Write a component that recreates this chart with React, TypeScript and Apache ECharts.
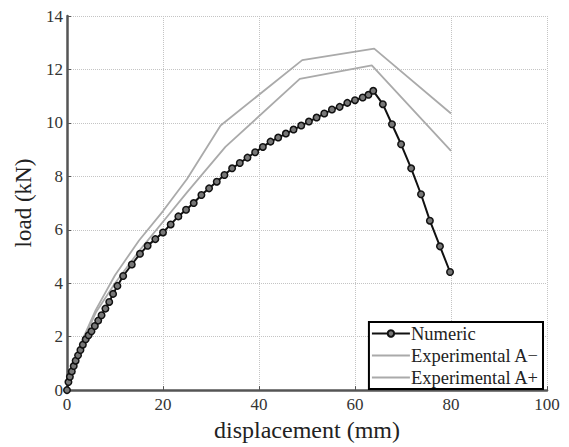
import React, { useEffect, useRef } from "react";
import * as echarts from "echarts";

const numericX = [0, 0.3, 0.6, 1.0, 1.4, 1.8, 2.3, 2.8, 3.3, 3.9, 4.5, 5.1, 5.8, 6.5, 7.2, 8.0, 8.8, 9.6, 10.5, 11.7, 13.5, 15.2, 16.8, 18.4, 20.0, 21.6, 23.2, 24.8, 26.4, 28.0, 29.6, 31.2, 32.8, 34.4, 36.0, 37.6, 39.2, 40.8, 42.4, 44.0, 45.6, 47.2, 48.8, 50.4, 52.0, 53.6, 55.2, 56.8, 58.4, 60.0, 61.6, 62.8, 63.8, 65.8, 67.7, 69.6, 71.7, 73.75, 75.6, 77.7, 79.8];
const numericY = [0, 0.3, 0.5, 0.7, 0.9, 1.1, 1.3, 1.5, 1.7, 1.9, 2.05, 2.2, 2.4, 2.6, 2.8, 3.05, 3.3, 3.6, 3.9, 4.27, 4.7, 5.1, 5.4, 5.65, 5.9, 6.2, 6.5, 6.75, 7.0, 7.3, 7.55, 7.8, 8.05, 8.3, 8.5, 8.7, 8.9, 9.1, 9.3, 9.45, 9.6, 9.75, 9.9, 10.05, 10.2, 10.35, 10.5, 10.6, 10.75, 10.85, 10.95, 11.05, 11.2, 10.7, 9.95, 9.2, 8.3, 7.33, 6.34, 5.38, 4.42];

const expMinusX = [0, 1, 3, 6, 10, 15, 20, 25, 33, 48.5, 63.5, 80];
const expMinusY = [0, 0.75, 1.7, 2.9, 4.0, 5.2, 6.3, 7.4, 9.1, 11.65, 12.15, 8.95];

const expPlusX = [0, 1, 3, 6, 10, 15, 20, 25, 32, 49, 64, 80];
const expPlusY = [0, 0.8, 1.8, 3.0, 4.3, 5.6, 6.7, 7.9, 9.9, 12.35, 12.78, 10.35];

const xTicks = { min: 0, max: 100, interval: 20 };
const yTicks = { min: 0, max: 14, interval: 2 };

const zip = (xs: number[], ys: number[]) => xs.map((x, i) => [x, ys[i]]);

export default function App() {
  const ref = useRef<HTMLDivElement>(null);
  useEffect(() => {
    if (!ref.current) return;
    const chart = echarts.init(ref.current, null, { renderer: "svg" });
    const font = "'Liberation Serif', 'Times New Roman', serif";
    const gridLine = { show: true, lineStyle: { color: "#c4c4c4", type: "dotted" as const, width: 1 } };
    chart.setOption({
      animation: false,
      backgroundColor: "#fff",
      grid: { left: 67, right: 22, top: 16, bottom: 51, containLabel: false },
      xAxis: {
        type: "value",
        ...xTicks,
        name: "displacement (mm)",
        nameLocation: "middle",
        nameGap: 23,
        nameTextStyle: { fontFamily: font, fontSize: 24, color: "#222" },
        axisLine: { show: true, onZero: false, lineStyle: { color: "#555", width: 2.5 } },
        axisTick: { show: true, inside: true, length: 4, lineStyle: { color: "#555" } },
        axisLabel: { fontFamily: font, fontSize: 17, color: "#333", margin: 6 },
        splitLine: gridLine,
      },
      yAxis: {
        type: "value",
        ...yTicks,
        name: "load (kN)",
        nameLocation: "middle",
        nameGap: 30,
        nameTextStyle: { fontFamily: font, fontSize: 23, color: "#222" },
        axisLine: { show: true, onZero: false, lineStyle: { color: "#555", width: 2.5 } },
        axisTick: { show: true, inside: true, length: 4, lineStyle: { color: "#555" } },
        axisLabel: { fontFamily: font, fontSize: 17, color: "#333", margin: 4 },
        splitLine: gridLine,
      },
      legend: {
        orient: "vertical",
        right: 26,
        bottom: 58,
        backgroundColor: "#fff",
        borderColor: "#000",
        borderWidth: 2,
        borderRadius: 0,
        padding: [2, 4, 2, 2],
        itemGap: 3,
        itemWidth: 38,
        itemHeight: 8,
        textStyle: { fontFamily: font, fontSize: 18.5, color: "#222", padding: [0, 0, 0, -4] },
        data: [
          { name: "Numeric" },
          { name: "Experimental A\u2212", itemStyle: { opacity: 0 } },
          { name: "Experimental A+", itemStyle: { opacity: 0 } },
        ],
      },
      series: [
        {
          name: "Experimental A\u2212",
          type: "line",
          data: zip(expMinusX, expMinusY),
          showSymbol: false,
          symbol: "none",
          lineStyle: { color: "#aaa", width: 1.8 },
          itemStyle: { color: "#aaa" },
          z: 2,
        },
        {
          name: "Experimental A+",
          type: "line",
          data: zip(expPlusX, expPlusY),
          showSymbol: false,
          symbol: "none",
          lineStyle: { color: "#aaa", width: 1.8 },
          itemStyle: { color: "#aaa" },
          z: 2,
        },
        {
          name: "Numeric",
          type: "line",
          data: zip(numericX, numericY),
          symbol: "circle",
          symbolSize: 6.5,
          showAllSymbol: true,
          lineStyle: { color: "#111", width: 2 },
          itemStyle: { color: "#777", borderColor: "#111", borderWidth: 1.5 },
          z: 3,
        },
      ],
    });
    return () => chart.dispose();
  }, []);
  return <div ref={ref} style={{ width: 569, height: 447, position: "absolute", left: 0, top: 0 }} />;
}
